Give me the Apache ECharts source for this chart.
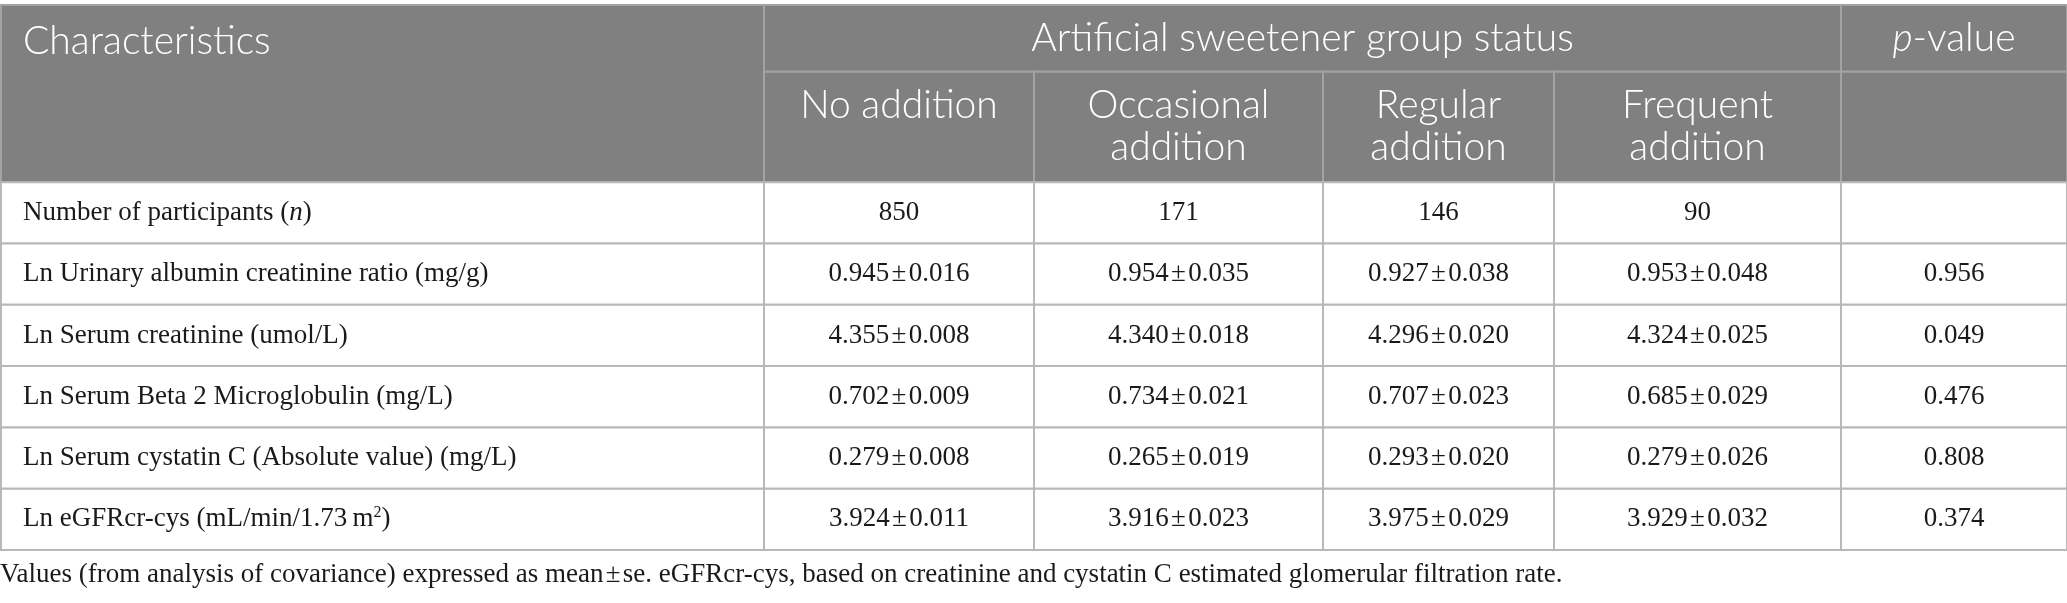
<!DOCTYPE html>
<html>
<head>
<meta charset="utf-8">
<script src="https://cdn.jsdelivr.net/npm/echarts@6/dist/echarts.min.js"></script>
<style>
html,body{margin:0;padding:0;background:#fff;}
#main{width:2067px;height:603px;}
</style>
</head>
<body>
<div id="main"></div>
<script>
// table content
var headTitle = 'Characteristics';
var groupTitle = 'Artificial sweetener group status';
var pTitle = '{i|p}-value';
var groups = ['No addition', 'Occasional\naddition', 'Regular\naddition', 'Frequent\naddition'];
var characteristics = [
	'Number of participants ({i|n})',
	'Ln Urinary albumin creatinine ratio (mg/g)',
	'Ln Serum creatinine (umol/L)',
	'Ln Serum Beta 2 Microglobulin (mg/L)',
	'Ln Serum cystatin C (Absolute value) (mg/L)',
	'Ln eGFRcr-cys (mL/min/1.73\u2009m{sup|2})'
];
var noAddition = ['850', '0.945\u200a±\u200a0.016', '4.355\u200a±\u200a0.008', '0.702\u200a±\u200a0.009', '0.279\u200a±\u200a0.008', '3.924\u200a±\u200a0.011'];
var occasionalAddition = ['171', '0.954\u200a±\u200a0.035', '4.340\u200a±\u200a0.018', '0.734\u200a±\u200a0.021', '0.265\u200a±\u200a0.019', '3.916\u200a±\u200a0.023'];
var regularAddition = ['146', '0.927\u200a±\u200a0.038', '4.296\u200a±\u200a0.020', '0.707\u200a±\u200a0.023', '0.293\u200a±\u200a0.020', '3.975\u200a±\u200a0.029'];
var frequentAddition = ['90', '0.953\u200a±\u200a0.048', '4.324\u200a±\u200a0.025', '0.685\u200a±\u200a0.029', '0.279\u200a±\u200a0.026', '3.929\u200a±\u200a0.032'];
var pValues = ['', '0.956', '0.049', '0.476', '0.808', '0.374'];
var footnote = 'Values (from analysis of covariance) expressed as mean\u200a±\u200ase. eGFRcr-cys, based on creatinine and cystatin C estimated glomerular filtration rate.';

// layout (column edges in px along x axis, rows in row units along y axis)
var colEdges = [0, 763, 1033, 1322, 1553, 1840, 2066];
var headTop = -2.89, headMid = -1.80;

var HEAD_BG = '#7f807f';
var HEAD_LINE = '#a3a3a3';
var BODY_LINE = '#b8b8b8';
var SANS = 'Lato, "Open Sans", sans-serif';
var SERIF = '"Liberation Serif", "Times New Roman", serif';
var HEAD_SIZE = 39, BODY_SIZE = 27;

var columns = [noAddition, occasionalAddition, regularAddition, frequentAddition, pValues];

// build cell list: [x0, y0, x1, y1, kind, text]
var cells = [];
cells.push([colEdges[0], headTop, colEdges[1], 0, 'headLeft', headTitle]);
cells.push([colEdges[1], headTop, colEdges[5], headMid, 'headTop', groupTitle]);
cells.push([colEdges[5], headTop, colEdges[6], headMid, 'headTop', pTitle]);
for (var g = 0; g < groups.length; g++) {
	cells.push([colEdges[g + 1], headMid, colEdges[g + 2], 0, 'headSub', groups[g]]);
}
cells.push([colEdges[5], headMid, colEdges[6], 0, 'headSub', '']);
for (var r = 0; r < characteristics.length; r++) {
	cells.push([colEdges[0], r, colEdges[1], r + 1, 'bodyLeft', characteristics[r]]);
	for (var c = 0; c < columns.length; c++) {
		cells.push([colEdges[c + 1], r, colEdges[c + 2], r + 1, 'body', columns[c][r]]);
	}
}

var serifRich = {
	i: {fontFamily: SERIF, fontSize: BODY_SIZE, fontStyle: 'italic', fill: '#1a1a1a'},
	sup: {fontFamily: SERIF, fontSize: 16, fill: '#1a1a1a', padding: [0, 0, 14, 0]}
};

function renderCell(params, api) {
	var d = cells[params.dataIndex];
	var p0 = api.coord([d[0], d[1]]);
	var p1 = api.coord([d[2], d[3]]);
	var x = p0[0], y = p0[1], w = p1[0] - p0[0], h = p1[1] - p0[1];
	var kind = d[4];
	var head = kind.indexOf('head') === 0;
	var children = [{
		type: 'rect',
		shape: {x: x, y: y, width: w, height: h},
		style: {fill: head ? HEAD_BG : '#fff', stroke: head ? HEAD_LINE : BODY_LINE, lineWidth: 2}
	}];
	var ts;
	if (kind === 'headLeft') {
		ts = {text: d[5], x: x + 22, y: y + 36, align: 'left', verticalAlign: 'middle',
			fontFamily: SANS, fontSize: HEAD_SIZE, fontWeight: 300, fill: '#fff'};
	} else if (kind === 'headTop') {
		ts = {text: d[5], x: x + w / 2, y: y + h / 2, align: 'center', verticalAlign: 'middle',
			fontFamily: SANS, fontSize: HEAD_SIZE, fontWeight: 300, fill: '#fff',
			rich: {i: {fontFamily: SANS, fontSize: HEAD_SIZE, fontWeight: 300, fontStyle: 'italic', fill: '#fff'}}};
	} else if (kind === 'headSub') {
		ts = {text: d[5], x: x + w / 2, y: y + 13, align: 'center', verticalAlign: 'top',
			fontFamily: SANS, fontSize: HEAD_SIZE, fontWeight: 300, lineHeight: 42, fill: '#fff'};
	} else if (kind === 'bodyLeft') {
		ts = {text: d[5], x: x + 22, y: y + h / 2, align: 'left', verticalAlign: 'middle',
			fontFamily: SERIF, fontSize: BODY_SIZE, fill: '#1a1a1a', rich: serifRich};
	} else {
		ts = {text: d[5], x: x + w / 2, y: y + h / 2, align: 'center', verticalAlign: 'middle',
			fontFamily: SERIF, fontSize: BODY_SIZE, fill: '#1a1a1a'};
	}
	children.push({type: 'text', style: ts});
	return {type: 'group', children: children};
}

var myChart = echarts.init(document.getElementById('main'));
var option = {
	animation: false,
	title: {
		text: footnote,
		left: 0,
		top: 561,
		padding: 0,
		textStyle: {fontFamily: SERIF, fontSize: BODY_SIZE, fontWeight: 'normal', color: '#1a1a1a'}
	},
	grid: {left: 1, right: 0, top: 5, bottom: 53},
	xAxis: {type: 'value', min: 0, max: 2066, show: false},
	yAxis: {type: 'value', min: headTop, max: 6, inverse: true, show: false},
	series: [{
		type: 'custom',
		renderItem: renderCell,
		encode: {x: [0, 2], y: [1, 3]},
		data: cells.map(function (d) { return [d[0], d[1], d[2], d[3]]; })
	}]
};
myChart.setOption(option);
</script>
</body>
</html>
